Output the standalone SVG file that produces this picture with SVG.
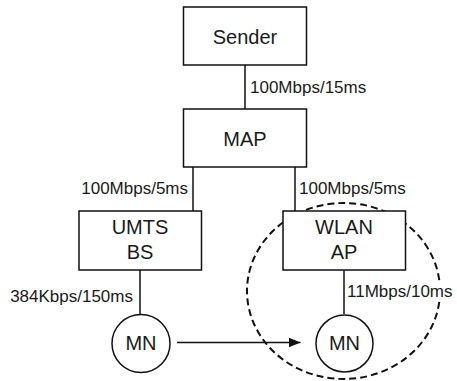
<svg xmlns="http://www.w3.org/2000/svg" width="457" height="381" viewBox="0 0 457 381">
  <defs>
    <style>
      .box { fill: #fff; stroke: #111; stroke-width: 1.5; }
      .circ { fill: #fff; stroke: #111; stroke-width: 1.5; }
      .line { fill: none; stroke: #111; stroke-width: 1.5; }
      .node { font-family: "Liberation Sans", Arial, sans-serif; font-size: 20px; fill: #1a1a1a; text-anchor: middle; }
      .lbl { font-family: "Liberation Sans", Arial, sans-serif; font-size: 17px; fill: #1a1a1a; }
      .zone { fill: none; stroke: #111; stroke-width: 2; stroke-dasharray: 7 4; }
    </style>
    <marker id="arrow" viewBox="0 0 12 10" refX="12" refY="5" markerWidth="12" markerHeight="10" markerUnits="userSpaceOnUse" orient="auto">
      <path d="M0,0 L12,5 L0,10 Z" fill="#111"/>
    </marker>
  </defs>
  <rect width="457" height="381" fill="#fff"/>

  <ellipse id="wlan-zone" class="zone" cx="343.5" cy="291" rx="96.5" ry="88"/>

  <g id="connectors">
    <line class="line" x1="245" y1="65" x2="245" y2="109"/>
    <line class="line" x1="193" y1="167" x2="193" y2="211"/>
    <line class="line" x1="295" y1="167" x2="295" y2="211"/>
    <line class="line" x1="140" y1="270" x2="140" y2="314"/>
    <line class="line" x1="344" y1="270" x2="344" y2="314"/>
    <line class="line" x1="177" y1="342.5" x2="300.5" y2="342.5" marker-end="url(#arrow)"/>
    <text class="lbl" x="250" y="92.5">100Mbps/15ms</text>
    <text class="lbl" x="188" y="194" text-anchor="end">100Mbps/5ms</text>
    <text class="lbl" x="299" y="194">100Mbps/5ms</text>
    <text class="lbl" x="133" y="301.5" text-anchor="end">384Kbps/150ms</text>
    <rect x="346" y="281" width="111" height="19" fill="#fff"/>
    <text class="lbl" x="347" y="297">11Mbps/10ms</text>
  </g>

  <g id="sender">
    <rect class="box" x="183.5" y="7" width="123" height="58"/>
    <text class="node" x="245" y="43.5">Sender</text>
  </g>
  <g id="map">
    <rect class="box" x="183.5" y="109" width="123" height="58"/>
    <text class="node" x="245" y="145.5">MAP</text>
  </g>
  <g id="umts-bs">
    <rect class="box" x="79" y="211" width="122.5" height="59"/>
    <text class="node" x="140" y="234">UMTS</text>
    <text class="node" x="140" y="258.5">BS</text>
  </g>
  <g id="wlan-ap">
    <rect class="box" x="283" y="211" width="122.5" height="59"/>
    <text class="node" x="344" y="234">WLAN</text>
    <text class="node" x="344" y="258.5">AP</text>
  </g>
  <g id="mn-umts">
    <circle class="circ" cx="141" cy="343.5" r="29"/>
    <text class="node" x="141" y="350">MN</text>
  </g>
  <g id="mn-wlan">
    <circle class="circ" cx="344.5" cy="343.5" r="28.5"/>
    <text class="node" x="344.5" y="350">MN</text>
  </g>
</svg>
